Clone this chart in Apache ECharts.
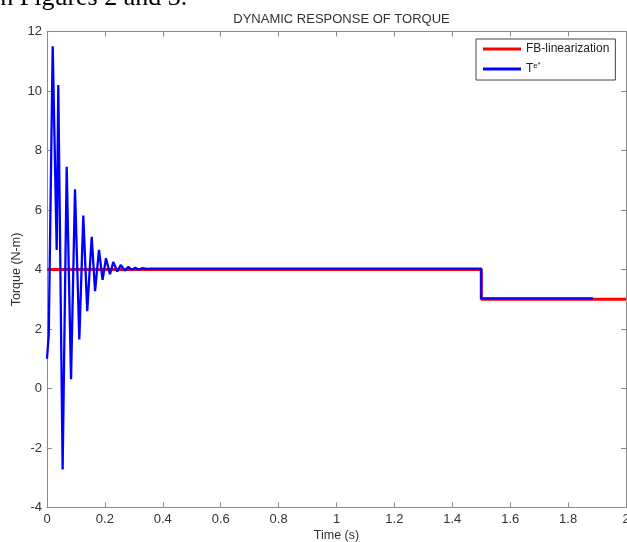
<!DOCTYPE html>
<html>
<head>
<meta charset="utf-8">
<script src="https://cdn.jsdelivr.net/npm/echarts@6/dist/echarts.min.js"></script>
<style>
html,body{margin:0;padding:0;background:#fff;}
#chart{width:627px;height:542px;}
</style>
</head>
<body>
<div id="chart"></div>
<script>
// ---- data ----
const chartTitle = 'DYNAMIC RESPONSE OF TORQUE';
const xName = 'Time (s)';
const yName = 'Torque (N-m)';
const seriesNames = ['FB-linearization', 'Te*'];

// reference (FB-linearization) torque
const refTime   = [0, 1.5, 1.5, 2];
const refTorque = [4, 4, 3, 3];

// actual torque Te* (turning points of the response)
const teTime = [0, 0.006, 0.0197, 0.0335, 0.039, 0.054, 0.068, 0.083, 0.0967, 0.1116,
  0.1254, 0.139, 0.1544, 0.166, 0.1796, 0.192, 0.2038, 0.2176, 0.229, 0.243,
  0.2546, 0.269, 0.2808, 0.294, 0.304, 0.318, 0.33, 0.345, 0.36, 1.5, 1.5, 1.886];
const teTorque = [1.0, 1.8, 11.5, 4.66, 10.2, -2.72, 7.45, 0.31, 6.7, 1.65,
  5.81, 2.6, 5.1, 3.27, 4.66, 3.65, 4.38, 3.84, 4.25, 3.93,
  4.15, 3.96, 4.09, 3.98, 4.06, 4.0, 4.05, 4.02, 4.03, 4.03, 3.03, 3.03];

const xMin = 0, xMax = 2, xStep = 0.2;
const yMin = -4, yMax = 12, yStep = 2;

// ---- chart ----
const pairs = (xs, ys) => xs.map((x, i) => [x, ys[i]]);
const FONT = '"Liberation Sans", Arial, sans-serif';
const AX = '#8a8a8a';
const TXT = '#333';

const chart = echarts.init(document.getElementById('chart'), null, {renderer: 'canvas'});

const baseAxis = {
  axisLine: {show: true, onZero: false, lineStyle: {color: AX, width: 1}},
  axisTick: {show: true, inside: true, length: 5, lineStyle: {color: AX}},
  splitLine: {show: false}
};

chart.setOption({
  animation: false,
  backgroundColor: '#fff',
  title: {
    text: chartTitle,
    left: 336.5, top: 8, textAlign: 'center',
    textStyle: {fontFamily: FONT, fontSize: 13, fontWeight: 'normal', color: TXT}
  },
  graphic: [{
    type: 'text', left: -7, top: -15,
    style: {text: 'in Figures 2 and 3.', font: '26px "Liberation Serif", "Times New Roman", serif', fill: '#000'}
  }],
  grid: {left: 47, right: 1, top: 31.5, bottom: 34.5, containLabel: false, outerBoundsMode: 'none'},
  legend: {
    data: seriesNames,
    orient: 'vertical',
    left: 476, top: 39,
    padding: [3, 6, 4, 7],
    itemGap: 6,
    itemWidth: 38, itemHeight: 3,
    icon: 'rect',
    borderColor: '#444', borderWidth: 1, borderRadius: 0,
    backgroundColor: '#fff',
    formatter: n => n === 'Te*' ? 'T{e|e}{s|*}' : n,
    textStyle: {
      fontFamily: FONT, fontSize: 12, color: '#222', lineHeight: 14,
      rich: {
        e: {fontFamily: FONT, fontSize: 8, color: '#222', verticalAlign: 'top', padding: [0, 0, 0, 0], lineHeight: 8},
        s: {fontFamily: FONT, fontSize: 7, color: '#222', verticalAlign: 'top', padding: [0, 0, 0, 0], lineHeight: 6}
      }
    }
  },
  xAxis: [
    Object.assign({}, baseAxis, {
      type: 'value', position: 'bottom', min: xMin, max: xMax, interval: xStep,
      name: xName, nameLocation: 'middle', nameGap: 22, nameMoveOverlap: false,
      nameTextStyle: {fontFamily: FONT, fontSize: 12.5, color: TXT},
      axisLabel: {fontFamily: FONT, fontSize: 13, color: TXT, margin: 5, showMaxLabel: true, showMinLabel: true}
    }),
    Object.assign({}, baseAxis, {
      type: 'value', position: 'top', min: xMin, max: xMax, interval: xStep,
      axisLabel: {show: false}
    })
  ],
  yAxis: [
    Object.assign({}, baseAxis, {
      type: 'value', position: 'left', min: yMin, max: yMax, interval: yStep,
      name: yName, nameLocation: 'middle', nameGap: 24, nameMoveOverlap: false,
      nameTextStyle: {fontFamily: FONT, fontSize: 12.5, color: TXT},
      axisLabel: {fontFamily: FONT, fontSize: 13, color: TXT, margin: 5}
    }),
    Object.assign({}, baseAxis, {
      type: 'value', position: 'right', min: yMin, max: yMax, interval: yStep,
      axisLabel: {show: false}
    })
  ],
  series: [
    {
      name: seriesNames[0], type: 'line', xAxisIndex: 0, yAxisIndex: 0,
      data: pairs(refTime, refTorque),
      showSymbol: false, symbol: 'none',
      lineStyle: {color: '#ff0000', width: 3},
      itemStyle: {color: '#ff0000'}
    },
    {
      name: seriesNames[1], type: 'line', xAxisIndex: 0, yAxisIndex: 0,
      data: pairs(teTime, teTorque),
      showSymbol: false, symbol: 'none',
      lineStyle: {color: '#0000ff', width: 2.3},
      itemStyle: {color: '#0000ff'}
    }
  ]
});
</script>
</body>
</html>
